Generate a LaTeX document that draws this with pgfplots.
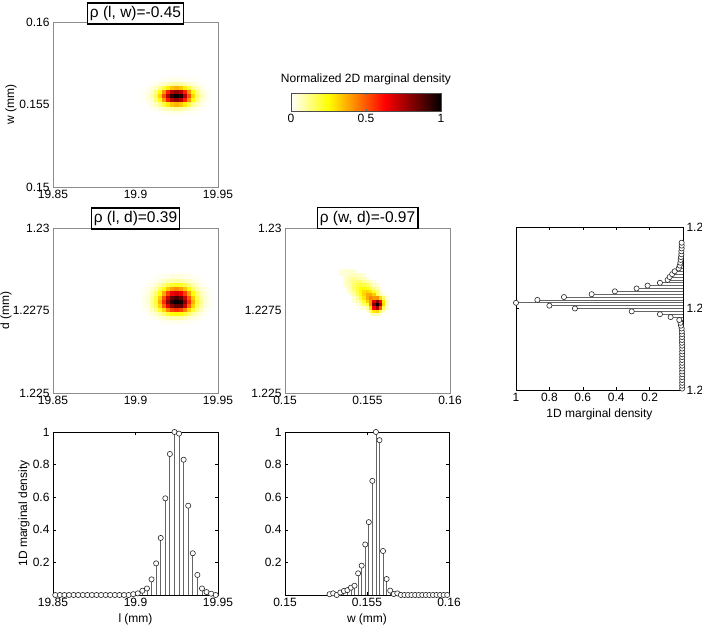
\documentclass[border=0pt]{standalone}
\usepackage{pgfplots}
\pgfplotsset{compat=1.18}
\usepackage{fontspec}
\setmainfont{Liberation Sans}
\newcommand\fs{\fontsize{12}{14}\selectfont}
\newcommand\tf{\fontsize{15.5}{18}\selectfont}
\pgfplotsset{
  colormap={revhot}{rgb(0)=(1,1,1) rgb(2)=(1,1,0) rgb(5)=(1,0,0) rgb(8)=(0,0,0)},
  base/.style={scale only axis, anchor=south west, enlargelimits=false, scaled ticks=false,
    tick label style={font=\fs}, label style={font=\fs},
    /pgf/number format/assume math mode=true},
  heat/.style={base, width=165pt, height=165pt, axis on top,
    axis line style={black!45, line width=0.4pt}, major tick length=0pt,
    colormap name=revhot, point meta min=0, point meta max=1,
    ylabel style={at={(axis description cs:-0.255,0.5)}, anchor=center}},
  stem/.style={base, axis line style={black, line width=0.5pt},
    major tick length=3pt, tick style={black, line width=0.4pt}, clip=false},
  stemplot/.style={draw=black!60, line width=0.8pt, mark=*, mark size=2.6pt,
    mark options={draw=black!85, fill=white, line width=0.6pt, solid}},
}
\tikzset{tbox/.style={draw=black, line width=1.6pt, fill=white, inner xsep=2.5pt,
  inner ysep=3pt, text height=11.5pt, text depth=3.5pt, font=\tf, anchor=south}}
\begin{document}
\begin{tikzpicture}
\path[use as bounding box] (0pt,0pt) rectangle (702pt,628pt);

% ---------- top-left: (l, w)
\begin{axis}[heat, at={(53pt,441pt)},
  xmin=19.85, xmax=19.95, ymin=0.15, ymax=0.16,
  xtick={19.85,19.9,19.95}, xticklabels={19.85,19.9,19.95},
  ytick={0.15,0.155,0.16}, yticklabels={0.15,0.155,0.16},
  ylabel={w (mm)}]
\addplot[matrix plot*, mesh/cols=17, point meta=explicit] table[meta=c, row sep=\\] {
x y c\\
19.905 0.15455 0\\ 19.9075 0.15455 0\\ 19.91 0.15455 0\\ 19.9125 0.15455 0\\ 19.915 0.15455 0.01\\ 19.9175 0.15455 0.01\\ 19.92 0.15455 0.01\\ 19.9225 0.15455 0.02\\ 19.925 0.15455 0.02\\ 19.9275 0.15455 0.02\\ 19.93 0.15455 0.01\\ 19.9325 0.15455 0.01\\ 19.935 0.15455 0.01\\ 19.9375 0.15455 0\\ 19.94 0.15455 0\\ 19.9425 0.15455 0\\ 19.945 0.15455 0\\
19.905 0.1548 0\\ 19.9075 0.1548 0\\ 19.91 0.1548 0.01\\ 19.9125 0.1548 0.02\\ 19.915 0.1548 0.03\\ 19.9175 0.1548 0.05\\ 19.92 0.1548 0.07\\ 19.9225 0.1548 0.09\\ 19.925 0.1548 0.10\\ 19.9275 0.1548 0.09\\ 19.93 0.1548 0.07\\ 19.9325 0.1548 0.05\\ 19.935 0.1548 0.03\\ 19.9375 0.1548 0.02\\ 19.94 0.1548 0.01\\ 19.9425 0.1548 0\\ 19.945 0.1548 0\\
19.905 0.15505 0\\ 19.9075 0.15505 0.01\\ 19.91 0.15505 0.03\\ 19.9125 0.15505 0.06\\ 19.915 0.15505 0.11\\ 19.9175 0.15505 0.18\\ 19.92 0.15505 0.27\\ 19.9225 0.15505 0.33\\ 19.925 0.15505 0.36\\ 19.9275 0.15505 0.33\\ 19.93 0.15505 0.27\\ 19.9325 0.15505 0.18\\ 19.935 0.15505 0.11\\ 19.9375 0.15505 0.06\\ 19.94 0.15505 0.03\\ 19.9425 0.15505 0.01\\ 19.945 0.15505 0\\
19.905 0.1553 0.01\\ 19.9075 0.1553 0.02\\ 19.91 0.1553 0.05\\ 19.9125 0.1553 0.12\\ 19.915 0.1553 0.24\\ 19.9175 0.1553 0.40\\ 19.92 0.1553 0.58\\ 19.9225 0.1553 0.73\\ 19.925 0.1553 0.78\\ 19.9275 0.1553 0.73\\ 19.93 0.1553 0.58\\ 19.9325 0.1553 0.40\\ 19.935 0.1553 0.24\\ 19.9375 0.1553 0.12\\ 19.94 0.1553 0.05\\ 19.9425 0.1553 0.02\\ 19.945 0.1553 0.01\\
19.905 0.15555 0.01\\ 19.9075 0.15555 0.03\\ 19.91 0.15555 0.07\\ 19.9125 0.15555 0.16\\ 19.915 0.15555 0.31\\ 19.9175 0.15555 0.51\\ 19.92 0.15555 0.74\\ 19.9225 0.15555 0.93\\ 19.925 0.15555 1\\ 19.9275 0.15555 0.93\\ 19.93 0.15555 0.74\\ 19.9325 0.15555 0.51\\ 19.935 0.15555 0.31\\ 19.9375 0.15555 0.16\\ 19.94 0.15555 0.07\\ 19.9425 0.15555 0.03\\ 19.945 0.15555 0.01\\
19.905 0.1558 0.01\\ 19.9075 0.1558 0.02\\ 19.91 0.1558 0.05\\ 19.9125 0.1558 0.12\\ 19.915 0.1558 0.24\\ 19.9175 0.1558 0.40\\ 19.92 0.1558 0.58\\ 19.9225 0.1558 0.73\\ 19.925 0.1558 0.78\\ 19.9275 0.1558 0.73\\ 19.93 0.1558 0.58\\ 19.9325 0.1558 0.40\\ 19.935 0.1558 0.24\\ 19.9375 0.1558 0.12\\ 19.94 0.1558 0.05\\ 19.9425 0.1558 0.02\\ 19.945 0.1558 0.01\\
19.905 0.15605 0\\ 19.9075 0.15605 0.01\\ 19.91 0.15605 0.03\\ 19.9125 0.15605 0.06\\ 19.915 0.15605 0.11\\ 19.9175 0.15605 0.18\\ 19.92 0.15605 0.27\\ 19.9225 0.15605 0.33\\ 19.925 0.15605 0.36\\ 19.9275 0.15605 0.33\\ 19.93 0.15605 0.27\\ 19.9325 0.15605 0.18\\ 19.935 0.15605 0.11\\ 19.9375 0.15605 0.06\\ 19.94 0.15605 0.03\\ 19.9425 0.15605 0.01\\ 19.945 0.15605 0\\
19.905 0.1563 0\\ 19.9075 0.1563 0\\ 19.91 0.1563 0.01\\ 19.9125 0.1563 0.02\\ 19.915 0.1563 0.03\\ 19.9175 0.1563 0.05\\ 19.92 0.1563 0.07\\ 19.9225 0.1563 0.09\\ 19.925 0.1563 0.10\\ 19.9275 0.1563 0.09\\ 19.93 0.1563 0.07\\ 19.9325 0.1563 0.05\\ 19.935 0.1563 0.03\\ 19.9375 0.1563 0.02\\ 19.94 0.1563 0.01\\ 19.9425 0.1563 0\\ 19.945 0.1563 0\\
19.905 0.15655 0\\ 19.9075 0.15655 0\\ 19.91 0.15655 0\\ 19.9125 0.15655 0\\ 19.915 0.15655 0.01\\ 19.9175 0.15655 0.01\\ 19.92 0.15655 0.01\\ 19.9225 0.15655 0.02\\ 19.925 0.15655 0.02\\ 19.9275 0.15655 0.02\\ 19.93 0.15655 0.01\\ 19.9325 0.15655 0.01\\ 19.935 0.15655 0.01\\ 19.9375 0.15655 0\\ 19.94 0.15655 0\\ 19.9425 0.15655 0\\ 19.945 0.15655 0\\
};
\end{axis}

% ---------- middle-left: (l, d)
\begin{axis}[heat, at={(53pt,235pt)},
  xmin=19.85, xmax=19.95, ymin=1.225, ymax=1.23,
  xtick={19.85,19.9,19.95}, xticklabels={19.85,19.9,19.95},
  ytick={1.225,1.2275,1.23}, yticklabels={1.225,1.2275,1.23},
  ylabel={d (mm)}, ylabel style={at={(axis description cs:-0.285,0.5)}, anchor=center}]
\addplot[matrix plot*, mesh/cols=17, point meta=explicit] table[meta=c, row sep=\\] {
x y c\\
19.905 1.227165 0\\ 19.9075 1.227165 0\\ 19.91 1.227165 0\\ 19.9125 1.227165 0\\ 19.915 1.227165 0.01\\ 19.9175 1.227165 0.01\\ 19.92 1.227165 0.02\\ 19.9225 1.227165 0.02\\ 19.925 1.227165 0.02\\ 19.9275 1.227165 0.02\\ 19.93 1.227165 0.02\\ 19.9325 1.227165 0.01\\ 19.935 1.227165 0.01\\ 19.9375 1.227165 0\\ 19.94 1.227165 0\\ 19.9425 1.227165 0\\ 19.945 1.227165 0\\
19.905 1.22729 0\\ 19.9075 1.22729 0\\ 19.91 1.22729 0.01\\ 19.9125 1.22729 0.02\\ 19.915 1.22729 0.03\\ 19.9175 1.22729 0.04\\ 19.92 1.22729 0.06\\ 19.9225 1.22729 0.08\\ 19.925 1.22729 0.08\\ 19.9275 1.22729 0.08\\ 19.93 1.22729 0.06\\ 19.9325 1.22729 0.04\\ 19.935 1.22729 0.03\\ 19.9375 1.22729 0.02\\ 19.94 1.22729 0.01\\ 19.9425 1.22729 0\\ 19.945 1.22729 0\\
19.905 1.227415 0\\ 19.9075 1.227415 0.01\\ 19.91 1.227415 0.03\\ 19.9125 1.227415 0.05\\ 19.915 1.227415 0.09\\ 19.9175 1.227415 0.14\\ 19.92 1.227415 0.20\\ 19.9225 1.227415 0.24\\ 19.925 1.227415 0.25\\ 19.9275 1.227415 0.24\\ 19.93 1.227415 0.20\\ 19.9325 1.227415 0.14\\ 19.935 1.227415 0.09\\ 19.9375 1.227415 0.05\\ 19.94 1.227415 0.03\\ 19.9425 1.227415 0.01\\ 19.945 1.227415 0\\
19.905 1.22754 0.01\\ 19.9075 1.22754 0.02\\ 19.91 1.22754 0.06\\ 19.9125 1.22754 0.11\\ 19.915 1.22754 0.20\\ 19.9175 1.22754 0.31\\ 19.92 1.22754 0.43\\ 19.9225 1.22754 0.52\\ 19.925 1.22754 0.55\\ 19.9275 1.22754 0.52\\ 19.93 1.22754 0.43\\ 19.9325 1.22754 0.31\\ 19.935 1.22754 0.20\\ 19.9375 1.22754 0.11\\ 19.94 1.22754 0.06\\ 19.9425 1.22754 0.02\\ 19.945 1.22754 0.01\\
19.905 1.227665 0.02\\ 19.9075 1.227665 0.03\\ 19.91 1.227665 0.09\\ 19.9125 1.227665 0.17\\ 19.915 1.227665 0.31\\ 19.9175 1.227665 0.48\\ 19.92 1.227665 0.66\\ 19.9225 1.227665 0.80\\ 19.925 1.227665 0.85\\ 19.9275 1.227665 0.86\\ 19.93 1.227665 0.70\\ 19.9325 1.227665 0.48\\ 19.935 1.227665 0.31\\ 19.9375 1.227665 0.17\\ 19.94 1.227665 0.09\\ 19.9425 1.227665 0.03\\ 19.945 1.227665 0.02\\
19.905 1.22779 0.02\\ 19.9075 1.22779 0.04\\ 19.91 1.22779 0.10\\ 19.9125 1.22779 0.20\\ 19.915 1.22779 0.36\\ 19.9175 1.22779 0.56\\ 19.92 1.22779 0.78\\ 19.9225 1.22779 0.94\\ 19.925 1.22779 1\\ 19.9275 1.22779 0.97\\ 19.93 1.22779 0.80\\ 19.9325 1.22779 0.56\\ 19.935 1.22779 0.36\\ 19.9375 1.22779 0.20\\ 19.94 1.22779 0.10\\ 19.9425 1.22779 0.04\\ 19.945 1.22779 0.02\\
19.905 1.227915 0.02\\ 19.9075 1.227915 0.04\\ 19.91 1.227915 0.09\\ 19.9125 1.227915 0.18\\ 19.915 1.227915 0.32\\ 19.9175 1.227915 0.50\\ 19.92 1.227915 0.70\\ 19.9225 1.227915 0.85\\ 19.925 1.227915 0.90\\ 19.9275 1.227915 0.85\\ 19.93 1.227915 0.70\\ 19.9325 1.227915 0.50\\ 19.935 1.227915 0.32\\ 19.9375 1.227915 0.18\\ 19.94 1.227915 0.09\\ 19.9425 1.227915 0.04\\ 19.945 1.227915 0.02\\
19.905 1.22804 0.01\\ 19.9075 1.22804 0.03\\ 19.91 1.22804 0.07\\ 19.9125 1.22804 0.14\\ 19.915 1.22804 0.24\\ 19.9175 1.22804 0.38\\ 19.92 1.22804 0.53\\ 19.9225 1.22804 0.64\\ 19.925 1.22804 0.68\\ 19.9275 1.22804 0.64\\ 19.93 1.22804 0.53\\ 19.9325 1.22804 0.38\\ 19.935 1.22804 0.24\\ 19.9375 1.22804 0.14\\ 19.94 1.22804 0.07\\ 19.9425 1.22804 0.03\\ 19.945 1.22804 0.01\\
19.905 1.228165 0.01\\ 19.9075 1.228165 0.02\\ 19.91 1.228165 0.04\\ 19.9125 1.228165 0.08\\ 19.915 1.228165 0.15\\ 19.9175 1.228165 0.24\\ 19.92 1.228165 0.33\\ 19.9225 1.228165 0.39\\ 19.925 1.228165 0.42\\ 19.9275 1.228165 0.39\\ 19.93 1.228165 0.33\\ 19.9325 1.228165 0.24\\ 19.935 1.228165 0.15\\ 19.9375 1.228165 0.08\\ 19.94 1.228165 0.04\\ 19.9425 1.228165 0.02\\ 19.945 1.228165 0.01\\
19.905 1.22829 0\\ 19.9075 1.22829 0.01\\ 19.91 1.22829 0.02\\ 19.9125 1.22829 0.04\\ 19.915 1.22829 0.08\\ 19.9175 1.22829 0.12\\ 19.92 1.22829 0.17\\ 19.9225 1.22829 0.21\\ 19.925 1.22829 0.22\\ 19.9275 1.22829 0.21\\ 19.93 1.22829 0.17\\ 19.9325 1.22829 0.12\\ 19.935 1.22829 0.08\\ 19.9375 1.22829 0.04\\ 19.94 1.22829 0.02\\ 19.9425 1.22829 0.01\\ 19.945 1.22829 0\\
19.905 1.228415 0\\ 19.9075 1.228415 0\\ 19.91 1.228415 0.01\\ 19.9125 1.228415 0.02\\ 19.915 1.228415 0.03\\ 19.9175 1.228415 0.05\\ 19.92 1.228415 0.07\\ 19.9225 1.228415 0.08\\ 19.925 1.228415 0.09\\ 19.9275 1.228415 0.08\\ 19.93 1.228415 0.07\\ 19.9325 1.228415 0.05\\ 19.935 1.228415 0.03\\ 19.9375 1.228415 0.02\\ 19.94 1.228415 0.01\\ 19.9425 1.228415 0\\ 19.945 1.228415 0\\
19.905 1.22854 0\\ 19.9075 1.22854 0\\ 19.91 1.22854 0\\ 19.9125 1.22854 0.01\\ 19.915 1.22854 0.01\\ 19.9175 1.22854 0.02\\ 19.92 1.22854 0.02\\ 19.9225 1.22854 0.03\\ 19.925 1.22854 0.03\\ 19.9275 1.22854 0.03\\ 19.93 1.22854 0.02\\ 19.9325 1.22854 0.02\\ 19.935 1.22854 0.01\\ 19.9375 1.22854 0.01\\ 19.94 1.22854 0\\ 19.9425 1.22854 0\\ 19.945 1.22854 0\\
};
\end{axis}

% ---------- middle-middle: (w, d)
\begin{axis}[heat, at={(285pt,235pt)},
  xmin=0.15, xmax=0.16, ymin=1.225, ymax=1.23,
  xtick={0.15,0.155,0.16}, xticklabels={0.15,0.155,0.16},
  ytick={1.225,1.2275,1.23}, yticklabels={1.225,1.2275,1.23}]
\addplot[matrix plot*, mesh/cols=16, point meta=explicit] table[meta=c, row sep=\\] {
x y c\\
0.1534 1.2274 0\\ 0.1536 1.2274 0\\ 0.1538 1.2274 0\\ 0.154 1.2274 0\\ 0.1542 1.2274 0\\ 0.1544 1.2274 0\\ 0.1546 1.2274 0\\ 0.1548 1.2274 0\\ 0.155 1.2274 0\\ 0.1552 1.2274 0.04\\ 0.1554 1.2274 0.065\\ 0.1556 1.2274 0.065\\ 0.1558 1.2274 0.04\\ 0.156 1.2274 0\\ 0.1562 1.2274 0\\ 0.1564 1.2274 0\\
0.1534 1.2275 0\\ 0.1536 1.2275 0\\ 0.1538 1.2275 0\\ 0.154 1.2275 0\\ 0.1542 1.2275 0\\ 0.1544 1.2275 0\\ 0.1546 1.2275 0\\ 0.1548 1.2275 0\\ 0.155 1.2275 0.04\\ 0.1552 1.2275 0.14\\ 0.1554 1.2275 0.28\\ 0.1556 1.2275 0.31\\ 0.1558 1.2275 0.17\\ 0.156 1.2275 0.065\\ 0.1562 1.2275 0\\ 0.1564 1.2275 0\\
0.1534 1.2276 0\\ 0.1536 1.2276 0\\ 0.1538 1.2276 0\\ 0.154 1.2276 0\\ 0.1542 1.2276 0\\ 0.1544 1.2276 0\\ 0.1546 1.2276 0.04\\ 0.1548 1.2276 0.04\\ 0.155 1.2276 0.086\\ 0.1552 1.2276 0.30\\ 0.1554 1.2276 0.62\\ 0.1556 1.2276 0.75\\ 0.1558 1.2276 0.50\\ 0.156 1.2276 0.17\\ 0.1562 1.2276 0.04\\ 0.1564 1.2276 0\\
0.1534 1.2277 0\\ 0.1536 1.2277 0\\ 0.1538 1.2277 0\\ 0.154 1.2277 0\\ 0.1542 1.2277 0\\ 0.1544 1.2277 0.04\\ 0.1546 1.2277 0.065\\ 0.1548 1.2277 0.14\\ 0.155 1.2277 0.20\\ 0.1552 1.2277 0.41\\ 0.1554 1.2277 0.80\\ 0.1556 1.2277 1\\ 0.1558 1.2277 0.75\\ 0.156 1.2277 0.31\\ 0.1562 1.2277 0.065\\ 0.1564 1.2277 0\\
0.1534 1.2278 0\\ 0.1536 1.2278 0\\ 0.1538 1.2278 0\\ 0.154 1.2278 0\\ 0.1542 1.2278 0.04\\ 0.1544 1.2278 0.065\\ 0.1546 1.2278 0.12\\ 0.1548 1.2278 0.21\\ 0.155 1.2278 0.32\\ 0.1552 1.2278 0.40\\ 0.1554 1.2278 0.66\\ 0.1556 1.2278 0.80\\ 0.1558 1.2278 0.62\\ 0.156 1.2278 0.28\\ 0.1562 1.2278 0.065\\ 0.1564 1.2278 0\\
0.1534 1.2279 0\\ 0.1536 1.2279 0\\ 0.1538 1.2279 0\\ 0.154 1.2279 0\\ 0.1542 1.2279 0.04\\ 0.1544 1.2279 0.105\\ 0.1546 1.2279 0.185\\ 0.1548 1.2279 0.28\\ 0.155 1.2279 0.38\\ 0.1552 1.2279 0.43\\ 0.1554 1.2279 0.40\\ 0.1556 1.2279 0.41\\ 0.1558 1.2279 0.30\\ 0.156 1.2279 0.14\\ 0.1562 1.2279 0.04\\ 0.1564 1.2279 0\\
0.1534 1.228 0\\ 0.1536 1.228 0\\ 0.1538 1.228 0\\ 0.154 1.228 0.04\\ 0.1542 1.228 0.086\\ 0.1544 1.228 0.155\\ 0.1546 1.228 0.23\\ 0.1548 1.228 0.31\\ 0.155 1.228 0.37\\ 0.1552 1.228 0.38\\ 0.1554 1.228 0.32\\ 0.1556 1.228 0.155\\ 0.1558 1.228 0.086\\ 0.156 1.228 0.04\\ 0.1562 1.228 0\\ 0.1564 1.228 0\\
0.1534 1.2281 0\\ 0.1536 1.2281 0\\ 0.1538 1.2281 0.04\\ 0.154 1.2281 0.065\\ 0.1542 1.2281 0.105\\ 0.1544 1.2281 0.185\\ 0.1546 1.2281 0.25\\ 0.1548 1.2281 0.30\\ 0.155 1.2281 0.31\\ 0.1552 1.2281 0.28\\ 0.1554 1.2281 0.21\\ 0.1556 1.2281 0.14\\ 0.1558 1.2281 0.04\\ 0.156 1.2281 0\\ 0.1562 1.2281 0\\ 0.1564 1.2281 0\\
0.1534 1.2282 0\\ 0.1536 1.2282 0\\ 0.1538 1.2282 0.04\\ 0.154 1.2282 0.086\\ 0.1542 1.2282 0.14\\ 0.1544 1.2282 0.20\\ 0.1546 1.2282 0.24\\ 0.1548 1.2282 0.25\\ 0.155 1.2282 0.23\\ 0.1552 1.2282 0.185\\ 0.1554 1.2282 0.12\\ 0.1556 1.2282 0.065\\ 0.1558 1.2282 0.04\\ 0.156 1.2282 0\\ 0.1562 1.2282 0\\ 0.1564 1.2282 0\\
0.1534 1.2283 0\\ 0.1536 1.2283 0.04\\ 0.1538 1.2283 0.065\\ 0.154 1.2283 0.086\\ 0.1542 1.2283 0.14\\ 0.1544 1.2283 0.17\\ 0.1546 1.2283 0.20\\ 0.1548 1.2283 0.185\\ 0.155 1.2283 0.155\\ 0.1552 1.2283 0.105\\ 0.1554 1.2283 0.065\\ 0.1556 1.2283 0.04\\ 0.1558 1.2283 0\\ 0.156 1.2283 0\\ 0.1562 1.2283 0\\ 0.1564 1.2283 0\\
0.1534 1.2284 0\\ 0.1536 1.2284 0.04\\ 0.1538 1.2284 0.065\\ 0.154 1.2284 0.105\\ 0.1542 1.2284 0.12\\ 0.1544 1.2284 0.14\\ 0.1546 1.2284 0.14\\ 0.1548 1.2284 0.105\\ 0.155 1.2284 0.086\\ 0.1552 1.2284 0.04\\ 0.1554 1.2284 0.04\\ 0.1556 1.2284 0\\ 0.1558 1.2284 0\\ 0.156 1.2284 0\\ 0.1562 1.2284 0\\ 0.1564 1.2284 0\\
0.1534 1.2285 0\\ 0.1536 1.2285 0.04\\ 0.1538 1.2285 0.065\\ 0.154 1.2285 0.086\\ 0.1542 1.2285 0.105\\ 0.1544 1.2285 0.086\\ 0.1546 1.2285 0.086\\ 0.1548 1.2285 0.065\\ 0.155 1.2285 0.04\\ 0.1552 1.2285 0\\ 0.1554 1.2285 0\\ 0.1556 1.2285 0\\ 0.1558 1.2285 0\\ 0.156 1.2285 0\\ 0.1562 1.2285 0\\ 0.1564 1.2285 0\\
0.1534 1.2286 0.04\\ 0.1536 1.2286 0.04\\ 0.1538 1.2286 0.04\\ 0.154 1.2286 0.065\\ 0.1542 1.2286 0.065\\ 0.1544 1.2286 0.065\\ 0.1546 1.2286 0.04\\ 0.1548 1.2286 0.04\\ 0.155 1.2286 0\\ 0.1552 1.2286 0\\ 0.1554 1.2286 0\\ 0.1556 1.2286 0\\ 0.1558 1.2286 0\\ 0.156 1.2286 0\\ 0.1562 1.2286 0\\ 0.1564 1.2286 0\\
0.1534 1.2287 0.04\\ 0.1536 1.2287 0.04\\ 0.1538 1.2287 0.04\\ 0.154 1.2287 0.04\\ 0.1542 1.2287 0.04\\ 0.1544 1.2287 0\\ 0.1546 1.2287 0\\ 0.1548 1.2287 0\\ 0.155 1.2287 0\\ 0.1552 1.2287 0\\ 0.1554 1.2287 0\\ 0.1556 1.2287 0\\ 0.1558 1.2287 0\\ 0.156 1.2287 0\\ 0.1562 1.2287 0\\ 0.1564 1.2287 0\\
};
\end{axis}

% ---------- colorbar
\begin{axis}[scale only axis, anchor=south west, at={(291pt,517pt)},
  width=150pt, height=18pt, xmin=0, xmax=1, ymin=0, ymax=1, enlargelimits=false,
  ytick=\empty, xtick={0,0.5,1}, xticklabels={0,0.5,1},
  tick label style={font=\fs}, major tick length=2pt, tick style={black!60},
  axis line style={black!70}, colormap name=revhot, point meta min=0, point meta max=1,
  axis on top, title={Normalized 2D marginal density}, title style={font=\fs, yshift=-2pt}]
\addplot[surf, shader=interp, mesh/cols=11, point meta=x] coordinates {
(0,0) (0.1,0) (0.2,0) (0.3,0) (0.4,0) (0.5,0) (0.6,0) (0.7,0) (0.8,0) (0.9,0) (1,0)
(0,1) (0.1,1) (0.2,1) (0.3,1) (0.4,1) (0.5,1) (0.6,1) (0.7,1) (0.8,1) (0.9,1) (1,1)};
\end{axis}

% ---------- right: marginal of d
\begin{axis}[stem, at={(516pt,238pt)}, width=167pt, height=163pt,
  x dir=reverse, xmin=0, xmax=1, ymin=1.225, ymax=1.23,
  xtick={0.2,0.4,0.6,0.8,1}, xticklabels={0.2,0.4,0.6,0.8,1},
  ytick={1.225,1.2275,1.23}, yticklabels={1.225,1.2275,1.23},
  yticklabel pos=right, xlabel={1D marginal density}]
\addplot[xcomb, stemplot] coordinates {
(0.005,1.225044) (0.005,1.225132) (0.005,1.225219) (0.005,1.225307) (0.005,1.225395)
(0.005,1.225482) (0.005,1.225570) (0.005,1.225658) (0.005,1.225746) (0.005,1.225833)
(0.005,1.225921) (0.005,1.226009) (0.005,1.226096) (0.005,1.226184) (0.005,1.226272)
(0.005,1.226360) (0.006,1.226447) (0.006,1.226535) (0.006,1.226623) (0.006,1.226711)
(0.007,1.226798) (0.008,1.226886) (0.012,1.226974) (0.015,1.227061) (0.022,1.227149)
(0.074,1.227237) (0.138,1.227325) (0.307,1.227412) (0.647,1.227500) (0.80,1.227588)
(1.0,1.227675) (0.872,1.227763) (0.713,1.227851) (0.547,1.227939) (0.408,1.228026)
(0.278,1.228114) (0.212,1.228202) (0.138,1.228289) (0.092,1.228377) (0.08,1.228465)
(0.065,1.228553) (0.05,1.228640) (0.026,1.228728) (0.02,1.228816) (0.016,1.228904)
(0.014,1.228991) (0.012,1.229079) (0.01,1.229167) (0.01,1.229254) (0.008,1.229342)
(0.008,1.229430) (0.008,1.229518)};
\end{axis}

% ---------- bottom-left: marginal of l
\begin{axis}[stem, at={(53pt,33pt)}, width=165pt, height=163pt,
  xmin=19.85, xmax=19.95, ymin=0, ymax=1,
  xtick={19.85,19.9,19.95}, xticklabels={19.85,19.9,19.95},
  ytick={0.2,0.4,0.6,0.8,1}, yticklabels={0.2,0.4,0.6,0.8,1},
  xlabel={l (mm)}, ylabel={1D marginal density},
  ylabel style={at={(axis description cs:-0.176,0.5)}, anchor=center}]
\addplot[ycomb, stemplot] coordinates {
(19.85139,0) (19.85417,0) (19.85694,0) (19.85972,0) (19.8625,0) (19.86528,0)
(19.86806,0) (19.87083,0) (19.87361,0) (19.87639,0) (19.87917,0) (19.88194,0)
(19.88472,0) (19.8875,0) (19.89028,0) (19.89306,0) (19.89583,0) (19.89861,0.005)
(19.90139,0.01) (19.90417,0.026) (19.90694,0.04) (19.90972,0.096) (19.9125,0.194)
(19.91528,0.35) (19.91806,0.593) (19.92083,0.865) (19.92361,1.0) (19.92639,0.99)
(19.92917,0.83) (19.93194,0.548) (19.93472,0.256) (19.9375,0.123) (19.94028,0.04)
(19.94306,0.018) (19.94583,0.008) (19.94861,0)};
\end{axis}

% ---------- bottom-middle: marginal of w
\begin{axis}[stem, at={(285pt,33pt)}, width=164pt, height=163pt,
  xmin=0.15, xmax=0.16, ymin=0, ymax=1,
  xtick={0.15,0.155,0.16}, xticklabels={0.15,0.155,0.16},
  ytick={0.2,0.4,0.6,0.8,1}, yticklabels={0.2,0.4,0.6,0.8,1},
  xlabel={w (mm)}]
\addplot[ycomb, stemplot] coordinates {
(0.152717,0.005) (0.152935,0.01) (0.153152,0) (0.153370,0.015) (0.153587,0.025)
(0.153804,0.03) (0.154022,0.045) (0.154239,0.057) (0.154457,0.133) (0.154674,0.18)
(0.154891,0.31) (0.155109,0.447) (0.155326,0.70) (0.155543,1.0) (0.155761,0.95)
(0.155978,0.27) (0.156196,0.098) (0.156413,0.027) (0.156630,0.006) (0.156848,0.01)
(0.157065,0) (0.157283,0) (0.157500,0) (0.157717,0) (0.157935,0) (0.158152,0)
(0.158370,0) (0.158587,0) (0.158804,0) (0.159022,0) (0.159239,0) (0.159457,0)
(0.159674,0) (0.159891,0)};
\end{axis}

% ---------- correlation titles
\node[tbox] at (135.5pt,603pt) {ρ (l, w)=-0.45};
\node[tbox] at (135.5pt,398pt) {ρ (l, d)=0.39};
\node[tbox] at (367.5pt,398.5pt) {ρ (w, d)=-0.97};
\end{tikzpicture}
\end{document}
